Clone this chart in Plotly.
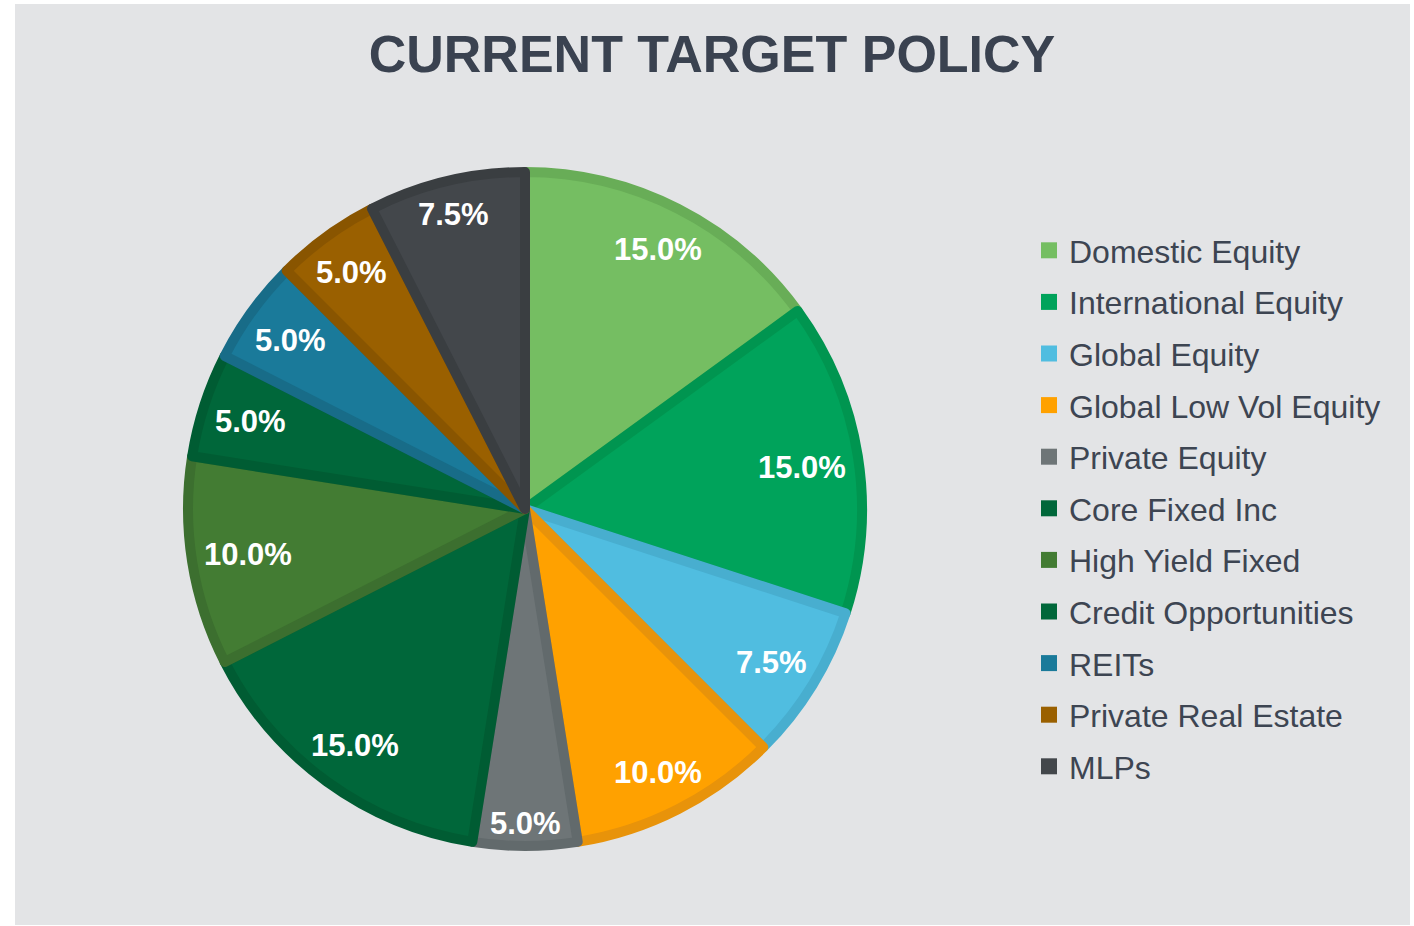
import math
import plotly.graph_objects as go

categories = ["Domestic Equity", "International Equity", "Global Equity", "Global Low Vol Equity",
              "Private Equity", "Core Fixed Inc", "High Yield Fixed", "Credit Opportunities",
              "REITs", "Private Real Estate", "MLPs"]
weights = [15.0, 15.0, 7.5, 10.0, 5.0, 15.0, 10.0, 5.0, 5.0, 5.0, 7.5]
fill_colors = ["#75be62", "#00a35b", "#50bde0", "#ffa100", "#6e7577", "#00673a",
               "#437c33", "#00673a", "#1a7a9a", "#9a6000", "#43474b"]
line_colors = ["#68ad57", "#009550", "#48aecf", "#e8930a", "#626a6c", "#005c33",
               "#3c6f2f", "#005c33", "#186c88", "#895500", "#3a3e41"]
title_text = "CURRENT TARGET POLICY"

W, H = 1414, 926
CX, CY, R_OUT = 525, 509, 342
LW = 10
R = R_OUT - LW / 2
FONT = "Liberation Sans, Arial, sans-serif"
LABEL_SIZE = 31
EDGE_MARGIN = 16

fig = go.Figure()
fig.add_trace(go.Pie(
    labels=categories, values=weights, sort=False, direction="clockwise", rotation=0,
    marker=dict(colors=fill_colors, line=dict(color=line_colors, width=LW)),
    textinfo="none", textposition="none", hoverinfo="label+percent", showlegend=False,
    domain=dict(x=[(CX - R) / W, (CX + R) / W], y=[1 - (CY + R) / H, 1 - (CY - R) / H]),
))

# legend entries (one group each so spacing can be set)
for i, (c, col) in enumerate(zip(categories, fill_colors)):
    fig.add_trace(go.Scatter(x=[None], y=[None], mode="markers", name=c,
                             legendgroup=f"g{i}", showlegend=True,
                             marker=dict(symbol="square", size=16, color=col,
                                         line=dict(width=0))))

# approximate bold Arial glyph widths (em) for fitting labels inside the pie edge
GLYPH_W = {".": 0.278, "%": 0.889}


def text_box(s):
    w = sum(GLYPH_W.get(ch, 0.556) for ch in s) * LABEL_SIZE
    h = 0.76 * LABEL_SIZE
    return w / 2, h / 2


total = sum(weights)
cum = 0.0
annotations = []
for v in weights:
    mid = (cum + v / 2) / total * 2 * math.pi
    cum += v
    txt = f"{v / total * 100:.1f}%"
    hw, hh = text_box(txt)
    sx, sy = math.sin(mid), -math.cos(mid)
    lo, hi = 0.0, R_OUT
    for _ in range(40):
        rr = (lo + hi) / 2
        px, py = rr * sx, rr * sy
        far = math.hypot(abs(px) + hw, abs(py) + hh)
        if far > R_OUT - EDGE_MARGIN:
            hi = rr
        else:
            lo = rr
    px = CX + lo * sx
    py = CY + lo * sy
    annotations.append(dict(x=px / W, y=1 - py / H, xref="paper", yref="paper",
                            text=txt, showarrow=False, yshift=-2,
                            xanchor="center", yanchor="middle",
                            font=dict(family=FONT, size=LABEL_SIZE, color="white", weight="bold")))

fig.update_layout(
    width=W, height=H,
    margin=dict(l=0, r=0, t=0, b=0),
    paper_bgcolor="white", plot_bgcolor="rgba(0,0,0,0)",
    xaxis=dict(visible=False), yaxis=dict(visible=False),
    title=dict(text=title_text, x=712 / W, xanchor="center", y=1 - 54 / H, yanchor="middle",
               font=dict(family=FONT, size=52, color="#3a4250", weight="bold")),
    legend=dict(x=1029 / W, xanchor="left", y=1 - 223 / H, yanchor="top",
                font=dict(family=FONT, size=32, color="#3d4552"),
                tracegroupgap=7, bgcolor="rgba(0,0,0,0)", itemclick=False),
    shapes=[dict(type="rect", xref="paper", yref="paper", x0=15 / W, x1=1410 / W,
                 y0=1 - 925 / H, y1=1 - 4 / H, fillcolor="#e3e4e6", line=dict(width=0),
                 layer="below")],
    annotations=annotations,
)

fig.write_html("out.html", config={"displayModeBar": False},
               post_script="document.body.style.margin='0';document.body.style.overflow='hidden';")
